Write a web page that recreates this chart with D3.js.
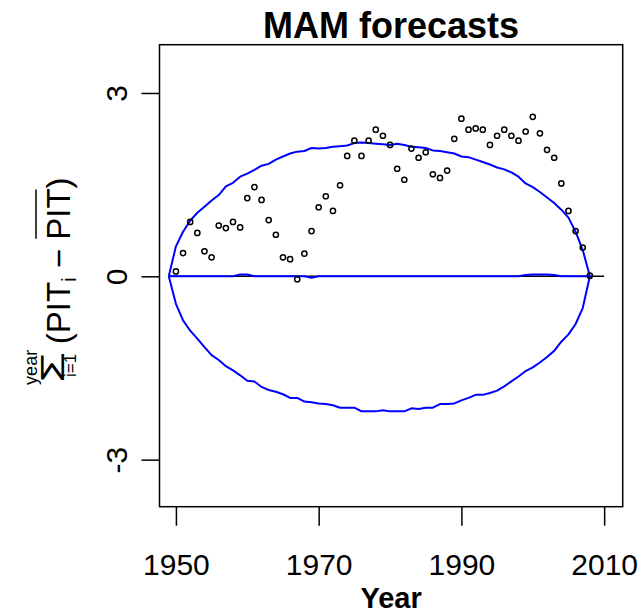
<!DOCTYPE html>
<html>
<head>
<meta charset="utf-8">
<script src="https://cdn.jsdelivr.net/npm/d3@7"></script>
<style>
  body { margin: 0; background: #fff; }
  text { font-family: "Liberation Sans", Arial, Helvetica, sans-serif; fill: #000; white-space: pre; }
</style>
</head>
<body>
<div id="chart"></div>
<script>
// cumulative PIT deviations, one point per year 1950-2008
var pointYears = d3.range(1950, 2009);
var cumPIT = [0.08, 0.38, 0.89, 0.71, 0.41, 0.31, 0.83, 0.79, 0.89, 0.80,
              1.28, 1.46, 1.25, 0.92, 0.68, 0.31, 0.28, -0.05, 0.37, 0.74,
              1.13, 1.31, 1.07, 1.49, 1.97, 2.22, 1.97, 2.22, 2.40, 2.30,
              2.15, 1.76, 1.58, 2.09, 1.94, 2.03, 1.67, 1.61, 1.73, 2.25,
              2.58, 2.40, 2.42, 2.40, 2.15, 2.30, 2.40, 2.30, 2.22, 2.37,
              2.61, 2.34, 2.07, 1.94, 1.52, 1.07, 0.74, 0.47, 0.01];

// band years 1949-2008
var bandYears = d3.range(1949, 2009);
var upperBand = [0,
                 0.49, 0.73, 0.91, 1.04, 1.14, 1.24, 1.33, 1.47, 1.53, 1.63,
                 1.68, 1.74, 1.81, 1.84, 1.91, 1.96, 2.01, 2.04, 2.05, 2.10,
                 2.09, 2.10, 2.12, 2.13, 2.14, 2.18, 2.19, 2.18, 2.17, 2.16,
                 2.15, 2.17, 2.15, 2.12, 2.11, 2.10, 2.06, 2.05, 2.03, 2.01,
                 1.96, 1.95, 1.91, 1.87, 1.83, 1.78, 1.75, 1.70, 1.63, 1.52,
                 1.46, 1.38, 1.29, 1.20, 1.09, 0.96, 0.73, 0.43, 0];
var lowerBand = [0,
                 -0.45, -0.72, -0.89, -1.02, -1.16, -1.29, -1.37, -1.47, -1.54, -1.62,
                 -1.71, -1.72, -1.81, -1.86, -1.89, -1.93, -1.99, -1.99, -2.05, -2.06,
                 -2.08, -2.09, -2.11, -2.15, -2.15, -2.15, -2.21, -2.21, -2.21, -2.19,
                 -2.21, -2.21, -2.21, -2.16, -2.17, -2.15, -2.15, -2.09, -2.09, -2.08,
                 -2.03, -1.99, -1.94, -1.94, -1.91, -1.87, -1.80, -1.72, -1.64, -1.55,
                 -1.49, -1.41, -1.32, -1.22, -1.07, -0.95, -0.78, -0.52, 0];
var midBand = [0,
               0, 0, 0, 0, 0, 0, 0, 0, 0, 0.03,
               0.03, 0, 0, 0, 0, 0, 0, 0, 0, -0.025,
               0, 0, 0, 0, 0, 0, 0, 0, 0, 0,
               0, 0, 0, 0, 0, 0, 0, 0, 0, 0,
               0, 0, 0, 0, 0, 0, 0, 0, 0, 0.02,
               0.03, 0.03, 0.03, 0.02, 0, 0, 0, 0, 0];

// black reference line
var refYears = [1949, 2010];
var refValues = [0, 0];

var xTicks = [1950, 1970, 1990, 2010];
var yTicks = [-3, 0, 3];

var W = 642, H = 613;
var box = {left: 159.5, right: 622.7, top: 44.7, bottom: 506.7};

var x = d3.scaleLinear().domain([1947.7, 2012.6]).range([box.left, box.right]);
var y = d3.scaleLinear().domain([-3.77, 3.79]).range([box.bottom, box.top]);

var svg = d3.select("#chart").append("svg")
    .attr("width", W)
    .attr("height", H);

// plot box
svg.append("rect")
    .attr("x", box.left).attr("y", box.top)
    .attr("width", box.right - box.left).attr("height", box.bottom - box.top)
    .attr("fill", "none").attr("stroke", "#000").attr("stroke-width", 1.5);

// x axis
var xAxis = svg.append("g")
    .attr("transform", "translate(0," + box.bottom + ")")
    .call(d3.axisBottom(x).tickValues(xTicks).tickFormat(function(d) { return String(d); })
          .tickSize(19).tickPadding(49));
xAxis.select(".domain").remove();
xAxis.selectAll(".tick line").attr("stroke", "#000").attr("stroke-width", 1.5);
xAxis.selectAll(".tick text").style("font-size", "30px")
    .style("font-family", '"Liberation Sans", Arial, sans-serif').attr("dy", "0");

// y axis
var yAxis = svg.append("g")
    .attr("transform", "translate(" + box.left + ",0)")
    .call(d3.axisLeft(y).tickValues(yTicks).tickSize(18).tickFormat(function(d) { return String(d); }));
yAxis.select(".domain").remove();
yAxis.selectAll(".tick line").attr("stroke", "#000").attr("stroke-width", 1.5);
yAxis.selectAll(".tick text")
    .attr("x", null).attr("dy", null)
    .attr("transform", "translate(-33,0) rotate(-90)")
    .attr("text-anchor", "middle")
    .style("font-size", "30px")
    .style("font-family", '"Liberation Sans", Arial, sans-serif');

var line = d3.line()
    .x(function(d) { return x(d[0]); })
    .y(function(d) { return y(d[1]); });

function pairs(xs, ys) {
  return xs.map(function(v, i) { return [v, ys[i]]; });
}

svg.append("path")
    .attr("d", line(pairs(refYears, refValues)))
    .attr("fill", "none").attr("stroke", "#000").attr("stroke-width", 1.6);

[upperBand, lowerBand, midBand].forEach(function(vals) {
  svg.append("path")
      .attr("d", line(pairs(bandYears, vals)))
      .attr("fill", "none").attr("stroke", "#0000ff").attr("stroke-width", 2)
      .attr("stroke-linejoin", "round");
});

svg.selectAll(".pt")
    .data(pairs(pointYears, cumPIT))
  .enter().append("circle")
    .attr("class", "pt")
    .attr("cx", function(d) { return x(d[0]); })
    .attr("cy", function(d) { return y(d[1]); })
    .attr("r", 2.6)
    .attr("fill", "none").attr("stroke", "#000").attr("stroke-width", 1.5);

// title and x label
var cx = (box.left + box.right) / 2;
svg.append("text")
    .attr("x", cx).attr("y", 38)
    .attr("text-anchor", "middle")
    .style("font-size", "36px").style("font-weight", "bold")
    .text("MAM forecasts");
svg.append("text")
    .attr("x", cx).attr("y", 608)
    .attr("text-anchor", "middle")
    .style("font-size", "29px").style("font-weight", "bold")
    .text("Year");

// y label: sum_{i=1}^{year} (PIT_i - overline(PIT))
var lab = svg.append("g")
    .attr("transform", "translate(70," + 280 + ") rotate(-90)");
var inner = lab.append("g");
var cur = 0;
function piece(str, size, dy) {
  var t = inner.append("text").attr("x", cur).attr("y", dy)
      .style("font-size", size + "px").text(str);
  var w = t.node().getComputedTextLength();
  var p = {x0: cur, w: w};
  cur += w;
  return p;
}
// wide summation sign
var sigT = inner.append("text")
    .attr("transform", "translate(0,-6) scale(1.45,1)")
    .style("font-size", "34px").text("\u03a3");
var sigW = sigT.node().getComputedTextLength() * 1.45;
inner.append("text").attr("x", sigW / 2).attr("y", -33)
    .attr("text-anchor", "middle").style("font-size", "18px").text("year");
inner.append("text").attr("x", sigW / 2 + 2).attr("y", 6)
    .attr("text-anchor", "middle").style("font-size", "17px").text("i=1");
cur = sigW + 8;
piece("(", 33, 0);
piece("PIT", 33, 0);
piece("i", 20, 6);
piece("\u00a0\u2212\u00a0", 33, 0);
var bar = piece("PIT", 33, 0);
piece(")", 33, 0);
inner.append("line")
    .attr("x1", bar.x0 + 1).attr("x2", bar.x0 + bar.w - 1)
    .attr("y1", -34).attr("y2", -34)
    .attr("stroke", "#000").attr("stroke-width", 1.5);
inner.attr("transform", "translate(" + (-cur / 2) + ",0)");
</script>
</body>
</html>
